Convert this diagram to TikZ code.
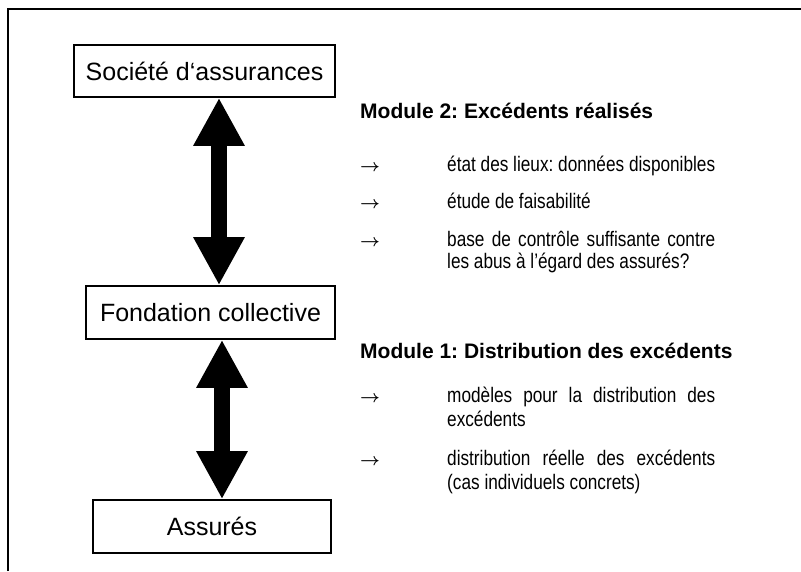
\documentclass[tikz,border=0pt]{standalone}
\usepackage{fontspec}
\setmainfont{Liberation Sans}
\newfontfamily\narrowfont[FakeStretch=0.82]{Liberation Sans}
\usetikzlibrary{arrows.meta, positioning}
\tikzset{
  box/.style={draw, line width=1.6pt, inner sep=0pt, font=\fontsize{25}{30}\selectfont},
  twoway/.style={line width=16pt,
    {Triangle[length=48pt, width=48pt]}-{Triangle[length=48pt, width=48pt]}},
  modtitle/.style={anchor=base west, inner sep=0pt, font=\bfseries\fontsize{21}{25}\selectfont},
  itemtext/.style={anchor=base west, inner sep=0pt, font=\narrowfont\fontsize{21}{25}\selectfont},
  bullet/.style={anchor=base west, inner sep=0pt, font=\boldmath\fontsize{17}{20}\selectfont},
}
\newcommand{\fullline}[1]{\makebox[268pt][s]{#1}}
\frenchspacing

\begin{document}
\begin{tikzpicture}[x=1pt, y=-1pt]
  \useasboundingbox (0,0) rectangle (801,571);
  % frame, top and left only
  \draw[line width=2pt] (8,571) -- (8,9) -- (801,9);
  % the three parties
  \node[box, minimum width=261pt, minimum height=52pt] (soc) at (204.5,71) {Société d‘assurances};
  \node[box, minimum width=249pt, minimum height=53pt] (fond) at (210.5,312.5) {Fondation collective};
  \node[box, minimum width=238pt, minimum height=53pt] (ass) at (212,526.5) {Assurés};
  % two-way arrows between them
  \coordinate (ax1) at (219,0);
  \coordinate (ax2) at (222,0);
  \draw[twoway] (soc.south -| ax1) -- (fond.north -| ax1);
  \draw[twoway] (fond.south -| ax2) -- (ass.north -| ax2);
  % module 2
  \node[modtitle] (mod2) at (360,118) {Module 2: Excédents réalisés};
  \foreach \y/\n in {171/a, 208/b, 246/c} \node[bullet] (arr2\n) at (360,\y) {$\rightarrow$};
  \node[itemtext] (it2a) at (447,171) {\fullline{état des lieux: données disponibles}};
  \node[itemtext] (it2b) at (447,208) {étude de faisabilité};
  \node[itemtext] (it2c) at (447,246) {\fullline{base de contrôle suffisante contre}};
  \node[itemtext] (it2d) at (447,268) {les abus à l’égard des assurés?};
  % module 1
  \node[modtitle] (mod1) at (360,358) {Module 1: Distribution des excédents};
  \foreach \y/\n in {402/a, 465/b} \node[bullet] (arr1\n) at (360,\y) {$\rightarrow$};
  \node[itemtext] (it1a) at (447,402) {\fullline{modèles pour la distribution des}};
  \node[itemtext] (it1b) at (447,426) {excédents};
  \node[itemtext] (it1c) at (447,465) {\fullline{distribution réelle des excédents}};
  \node[itemtext] (it1d) at (447,489) {(cas individuels concrets)};
\end{tikzpicture}
\end{document}
